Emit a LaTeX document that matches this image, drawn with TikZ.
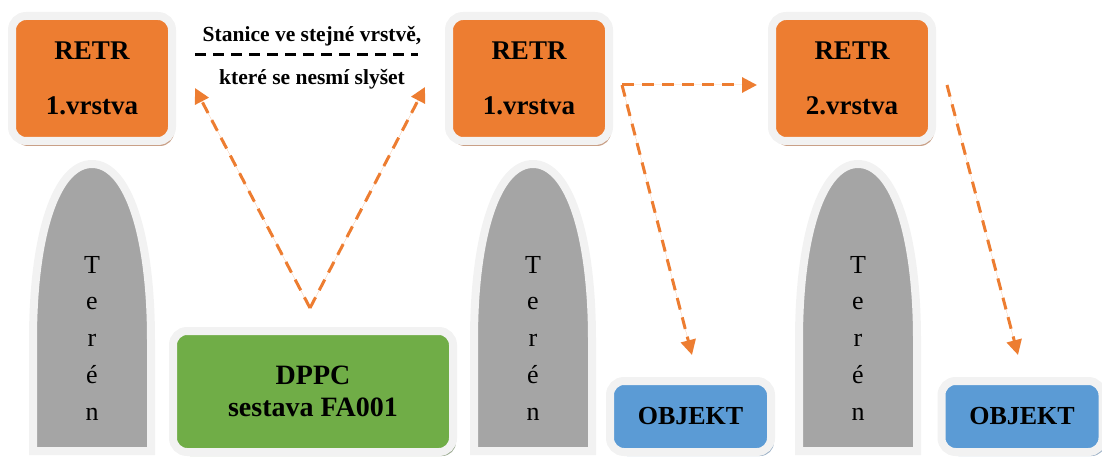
\documentclass[tikz,border=0pt]{standalone}
\usepackage{fontspec}
\setmainfont{Liberation Serif}[BoldFont={Liberation Serif Bold}]
\usetikzlibrary{shadows,arrows.meta}

\definecolor{retrorange}{HTML}{ED7D31}
\definecolor{retrshadow}{HTML}{C9A087}
\definecolor{dppcgreen}{HTML}{70AD47}
\definecolor{dppcshadow}{HTML}{9AAA90}
\definecolor{objblue}{HTML}{5B9BD5}
\definecolor{objshadow}{HTML}{9BB0C6}
\definecolor{terengray}{HTML}{A5A5A5}
\definecolor{framegray}{HTML}{F2F2F2}

\begin{document}
\begin{tikzpicture}[x=1pt,y=-1pt,>={Triangle[length=15pt,width=15pt]},
    box/.style={rectangle,rounded corners=14pt,draw=framegray,line width=8pt,
        align=center,inner sep=0pt,font=\bfseries\fontsize{27}{55}\selectfont},
    retr/.style={box,fill=retrorange,minimum width=160pt,minimum height=125pt,
        drop shadow={shadow xshift=2pt,shadow yshift=-5pt,fill=retrshadow,opacity=1}},
    dppc/.style={box,fill=dppcgreen,minimum width=280pt,minimum height=121pt,
        font=\bfseries\fontsize{28}{32}\selectfont,
        drop shadow={shadow xshift=3pt,shadow yshift=-4pt,fill=dppcshadow,opacity=1}},
    objekt/.style={box,fill=objblue,minimum width=161pt,minimum height=71pt,
        font=\bfseries\fontsize{26}{30}\selectfont,
        drop shadow={shadow xshift=3pt,shadow yshift=-4pt,fill=objshadow,opacity=1}},
    teren/.style={align=center,inner sep=0pt,font=\fontsize{26}{36.75}\selectfont},
    note/.style={inner sep=0pt,anchor=base,font=\bfseries\fontsize{21.5}{24}\selectfont},
    link/.style={->,draw=retrorange,fill=retrorange,line width=3pt,
        dash pattern=on 12pt off 8pt}
]
\useasboundingbox (0,0) rectangle (1102,457);

% terrain between the stations
\foreach \cx/\name in {92/teren1,533/teren2,858/teren3} {
    \draw[draw=framegray,fill=terengray,line width=8pt,
          drop shadow={shadow xshift=3pt,shadow yshift=-2pt,fill=black!40,opacity=1}]
        (\cx-59,451) -- (\cx-59,340)
        .. controls (\cx-59,235) and (\cx-36,164) .. (\cx,164)
        .. controls (\cx+36,164) and (\cx+59,235) .. (\cx+59,340)
        -- (\cx+59,451) -- cycle;
    \node[teren] (\name) at (\cx,338) {T\\e\\r\\é\\n};
}

% stations
\node[retr] (retrA) at (92,78.5) {RETR\\1.vrstva};
\node[retr] (retrB) at (529,78.5) {RETR\\1.vrstva};
\node[retr] (retrC) at (852,78.5) {RETR\\2.vrstva};
\node[dppc] (dppc) at (313,391.5) {DPPC\\sestava FA001};
\node[objekt] (objA) at (690.5,416.5) {OBJEKT};
\node[objekt] (objB) at (1022,416.5) {OBJEKT};

% note between the first layer stations
\node[note] (noteA) at (312,42) {Stanice ve stejné vrstvě,};
\node[note] (noteB) at (312,85) {které se nesmí slyšet};
\coordinate (sepL) at (195,55);
\coordinate (sepR) at (418,55);
\draw[line width=3pt,dash pattern=on 11pt off 7pt] (sepL) -- (sepR);

% links
\coordinate (apex) at (310,308);
\coordinate (tipL) at (195,88);
\coordinate (tipR) at (425,87);
\draw[link] (apex) -- (tipL);
\draw[link] (apex) -- (tipR);

\coordinate (outB) at (622,85);
\coordinate (inC) at (757,85);
\coordinate (downB) at (692,355);
\draw[link] (outB) -- (inC);
\draw[link] (outB) -- (downB);

\coordinate (outC) at (947,85);
\coordinate (downC) at (1018,355);
\draw[link] (outC) -- (downC);

\end{tikzpicture}
\end{document}
